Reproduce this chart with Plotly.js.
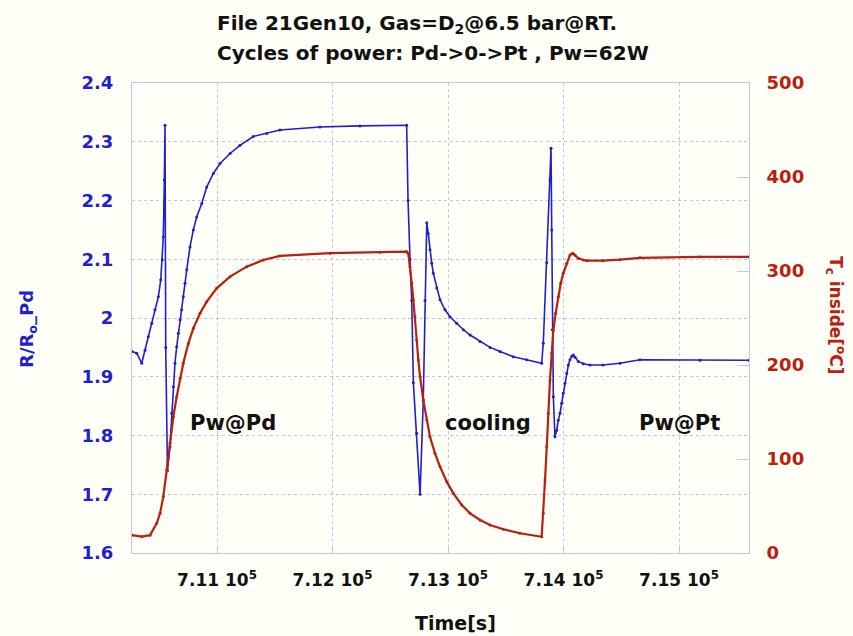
<!DOCTYPE html>
<html><head><meta charset="utf-8">
<script src="https://cdn.plot.ly/plotly-3.0.1.min.js"></script>
<style>html,body{margin:0;padding:0;background:#fffff8;}#chart{width:853px;height:636px;}</style>
</head><body><div id="chart"></div>
<script>
// R/R0 (Pd) series
const timeR = [710264,710305,710348,710377,710405,710435,710463,710492,710513,710526,710535,710544,710550,710556,710571,
  710593,710608,710622,710636,710651,710665,710680,710694,710708,710723,710738,710766,710795,710824,710868,710911,710968,
  711026,711113,711199,711314,711430,711545,711892,712238,712642,
  712654,712671,712686,712700,712729,712758,712786,712801,712816,712829,712844,712859,712873,712902,712931,712974,713017,
  713075,713133,713191,713277,713364,713450,713565,713681,713811,
  713825,713855,713883,713892,713898,713903,713912,713926,713941,713955,713970,713984,713998,714013,714028,714042,714056,
  714071,714085,714100,714128,714172,714229,714342,714489,714662,715182,715606];
const ratioR = [1.943,1.940,1.923,1.945,1.968,1.991,2.014,2.036,2.065,2.099,2.138,2.235,2.328,1.95,1.74,
  1.781,1.838,1.883,1.923,1.951,1.974,1.997,2.014,2.036,2.059,2.082,2.121,2.150,2.172,2.195,2.223,2.246,
  2.263,2.280,2.294,2.309,2.314,2.320,2.325,2.327,2.328,
  2.2,2.1,2.03,1.89,1.804,1.70,1.86,2.03,2.162,2.144,2.116,2.093,2.076,2.051,2.031,2.014,2.002,
  1.991,1.980,1.971,1.960,1.950,1.943,1.934,1.929,1.923,
  1.957,2.094,2.235,2.289,2.15,1.98,1.866,1.798,1.809,1.826,1.838,1.855,1.872,1.889,1.906,1.920,1.929,
  1.935,1.937,1.933,1.926,1.922,1.920,1.920,1.923,1.929,1.928,1.928];
// Temperature inside series
const timeT = [710264,710348,710420,710478,710507,710535,710565,710593,710622,710651,710680,710708,710752,710795,710853,
  710911,710997,711113,711257,711401,711545,711978,712411,712642,
  712656,712671,712686,712700,712714,712729,712743,712758,712786,712816,712844,712887,712931,712989,713046,713119,
  713191,713277,713364,713479,713623,713811,
  713825,713840,713855,713868,713883,713898,713912,713932,713955,713976,713998,714028,714056,714080,714100,714128,
  714172,714201,714342,714489,714662,715182,715606];
const tempT = [19,17.4,19,31.6,42.2,59.9,88.3,116.7,145,166.3,185.8,201.8,223,239,255,
  267.4,281.6,294,304.6,311.7,316,319,320,320.5,
  318.8,304.6,286.9,269.1,251.4,226.6,205.3,187.6,162.8,141.5,123.7,106,91.8,75.9,63.5,51.1,
  42.2,35.1,29.8,25.2,21,17.3,
  42.2,77.7,113.1,148.6,184,212.4,237.2,255,272.7,286.9,297.5,308.2,317,318.8,317,313.5,
  311.7,311,311,312,314,315,315];
// Axis ticks
const xTickVals = [711000,712000,713000,714000,715000];
const xTickText = ["7.11 10<sup>5</sup>","7.12 10<sup>5</sup>","7.13 10<sup>5</sup>","7.14 10<sup>5</sup>","7.15 10<sup>5</sup>"];
const yTickVals = [1.6,1.7,1.8,1.9,2,2.1,2.2,2.3,2.4];
const yTickText = ['1.6','1.7','1.8','1.9','2','2.1','2.2','2.3','2.4'];
const y2TickVals = [0,100,200,300,400,500];
// Phase labels
const phaseLabels = ["Pw@Pd","cooling","Pw@Pt"];
const phaseX = [711139,713346,715000];
const phaseY = [1.821,1.821,1.821];

const blue = '#1f1fd0', red = '#b8200f', frame = '#c4c4ee', grid = '#c0c0f2';
const fnt = 'DejaVu Sans, Verdana, sans-serif';

const traces = [
  {x: timeR, y: ratioR, mode: 'lines+markers', line: {color: blue, width: 1.6}, marker: {color: blue, size: 3}, yaxis: 'y', hoverinfo: 'skip'},
  {x: timeT, y: tempT, mode: 'lines+markers', line: {color: red, width: 2.2}, marker: {color: red, size: 3}, yaxis: 'y2', hoverinfo: 'skip'}
];

const annotations = phaseLabels.map((t, i) => ({x: phaseX[i], y: phaseY[i], xref: 'x', yref: 'y', text: '<b>' + t + '</b>', showarrow: false,
  font: {family: fnt, size: 21, color: '#111'}, xanchor: 'center', yanchor: 'middle'}));
annotations.push(
  {xref: 'paper', yref: 'paper', x: 0.1345, y: 1.126, xanchor: 'left', yanchor: 'middle', showarrow: false,
   text: '<b>File 21Gen10, Gas=D<sub>2</sub>@6.5 bar@RT.</b>', font: {family: fnt, size: 20, color: '#111'}},
  {xref: 'paper', yref: 'paper', x: 0.1345, y: 1.064, xanchor: 'left', yanchor: 'middle', showarrow: false,
   text: '<b>Cycles of power: Pd->0->Pt , Pw=62W</b>', font: {family: fnt, size: 20, color: '#111'}},
  {xref: 'paper', yref: 'paper', x: 1.141, y: 0.506, xanchor: 'center', yanchor: 'middle', textangle: 90, showarrow: false,
   text: '<b>T<sub>c</sub> inside[<sup>o</sup>C]</b>', font: {family: fnt, size: 17, color: red}},
  {xref: 'paper', yref: 'paper', x: -0.1686, y: 0.4766, xanchor: 'center', yanchor: 'middle', textangle: -90, showarrow: false,
   text: '<b>R/R<sub>o</sub>_Pd</b>', font: {family: fnt, size: 18, color: blue}},
  {xref: 'paper', yref: 'paper', x: 0.4554, y: -0.149, xanchor: 'left', yanchor: 'middle', showarrow: false,
   text: '<b>Time[s]</b>', font: {family: fnt, size: 19, color: '#111'}}
);

const layout = {
  width: 853, height: 636,
  margin: {l: 132, r: 104, t: 83, b: 83},
  paper_bgcolor: '#fffff8', plot_bgcolor: '#fffff8',
  showlegend: false,
  xaxis: {range: [710264, 715606], tickvals: xTickVals, ticktext: xTickText, ticks: 'inside', ticklen: 7, tickcolor: frame,
    showgrid: true, gridcolor: grid, griddash: 'dot', gridwidth: 1, showline: true, linecolor: frame, mirror: true, zeroline: false,
    ticklabelstandoff: 12,
    tickfont: {family: fnt, size: 17, color: '#111', weight: 'bold'}},
  yaxis: {range: [1.6, 2.4], tickvals: yTickVals, ticktext: yTickText,
    ticks: '', showgrid: true, gridcolor: grid, griddash: 'dot', gridwidth: 1, showline: true, linecolor: frame, zeroline: false,
    ticklabelstandoff: 14,
    tickfont: {family: fnt, size: 18, color: blue, weight: 'bold'}},
  yaxis2: {range: [0, 500], tickvals: y2TickVals, overlaying: 'y', side: 'right', ticks: 'inside', ticklen: 12, tickcolor: frame,
    showgrid: false, showline: true, linecolor: frame, zeroline: false, ticklabelstandoff: 13,
    tickfont: {family: fnt, size: 18, color: red, weight: 'bold'}},
  annotations: annotations
};

Plotly.newPlot('chart', traces, layout, {displayModeBar: false, staticPlot: true});
</script>
</body></html>
